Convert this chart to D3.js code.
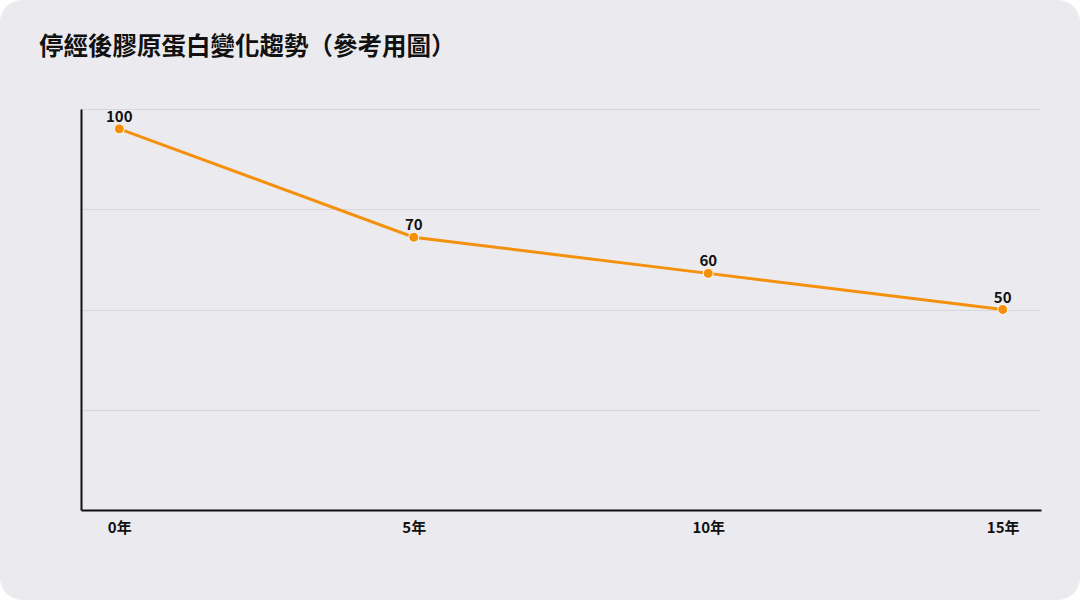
<!DOCTYPE html>
<html>
<head>
<meta charset="utf-8">
<script src="https://cdn.jsdelivr.net/npm/d3@7"></script>
<style>
  html, body { margin: 0; padding: 0; background: #ffffff; }
  #wrapper { width: 1080px; height: 600px; }
  text { font-family: "Noto Sans CJK TC", "Noto Sans", sans-serif; }
</style>
</head>
<body>
<div id="wrapper"></div>
<script>
const years = ["0年", "5年", "10年", "15年"];
const collagen = [100, 70, 60, 50];
const gridValues = [22.25, 50, 77.75, 105.5];
const title = "停經後膠原蛋白變化趨勢（參考用圖）";

const dataset = years.map((y, i) => ({ year: y, value: collagen[i] }));
const xAccessor = d => d.year;
const yAccessor = d => d.value;

const dimensions = {
  width: 1080,
  height: 600,
  margin: { top: 109, right: 39, bottom: 90, left: 81 }
};
dimensions.boundedWidth = dimensions.width - dimensions.margin.left - dimensions.margin.right;
dimensions.boundedHeight = dimensions.height - dimensions.margin.top - dimensions.margin.bottom;

const xScale = d3.scalePoint()
  .domain(years)
  .range([0, dimensions.boundedWidth])
  .padding(0.13);

const yScale = d3.scaleLinear()
  .domain([-5.5, 105.5])
  .range([dimensions.boundedHeight, 0]);

const wrapper = d3.select("#wrapper")
  .append("svg")
  .attr("width", dimensions.width)
  .attr("height", dimensions.height);

wrapper.append("rect")
  .attr("width", dimensions.width)
  .attr("height", dimensions.height)
  .attr("rx", 22)
  .attr("fill", "#ebebef");

wrapper.append("text")
  .attr("x", 39)
  .attr("y", 55)
  .attr("fill", "#111")
  .style("font-size", "24.5px")
  .style("font-weight", "bold")
  .text(title);

const bounds = wrapper.append("g")
  .attr("transform", `translate(${dimensions.margin.left}, ${dimensions.margin.top})`);

// grid lines
bounds.append("g")
  .selectAll("line")
  .data(gridValues)
  .join("line")
  .attr("x1", 0)
  .attr("x2", dimensions.boundedWidth)
  .attr("y1", d => Math.round(yScale(d)) + 0.5)
  .attr("y2", d => Math.round(yScale(d)) + 0.5)
  .attr("stroke", "#d6d6dc")
  .attr("stroke-width", 1);

// axes
const xAxis = bounds.append("g")
  .attr("transform", `translate(0, ${dimensions.boundedHeight})`)
  .call(d3.axisBottom(xScale).tickSize(0).tickPadding(12));
xAxis.select(".domain").attr("stroke", "#111").attr("stroke-width", 2);
xAxis.selectAll(".tick text")
  .attr("fill", "#111")
  .style("font-size", "15px")
  .style("font-weight", "bold")
  .style("font-family", "\"Noto Sans CJK TC\", sans-serif");

const yAxis = bounds.append("g")
  .call(d3.axisLeft(yScale).tickValues([]).tickSize(0));
yAxis.select(".domain").attr("stroke", "#111").attr("stroke-width", 2);

// line
const lineGenerator = d3.line()
  .x(d => xScale(xAccessor(d)))
  .y(d => yScale(yAccessor(d)));

bounds.append("path")
  .datum(dataset)
  .attr("d", lineGenerator)
  .attr("fill", "none")
  .attr("stroke", "#f5900c")
  .attr("stroke-width", 3);

bounds.selectAll("circle")
  .data(dataset)
  .join("circle")
  .attr("cx", d => xScale(xAccessor(d)))
  .attr("cy", d => yScale(yAccessor(d)))
  .attr("r", 5)
  .attr("fill", "#f5900c")
  .attr("stroke", "#ffffff")
  .attr("stroke-width", 1);

bounds.selectAll(".value-label")
  .data(dataset)
  .join("text")
  .attr("class", "value-label")
  .attr("x", d => xScale(xAccessor(d)))
  .attr("y", d => yScale(yAccessor(d)) - 7)
  .attr("text-anchor", "middle")
  .attr("fill", "#111")
  .style("font-size", "15px")
  .style("font-weight", "bold")
  .text(d => yAccessor(d));
</script>
</body>
</html>
